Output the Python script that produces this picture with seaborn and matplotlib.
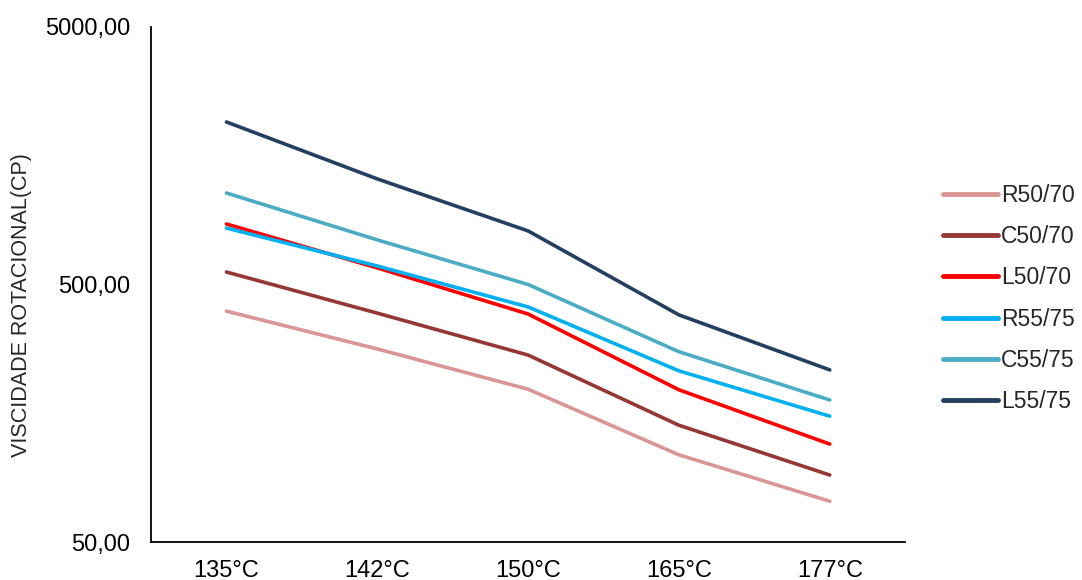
import matplotlib
matplotlib.use('Agg')
import matplotlib.pyplot as plt
from matplotlib.ticker import NullLocator
import pandas as pd
import seaborn as sns

temps = ["135°C", "142°C", "150°C", "165°C", "177°C"]
series = ["R50/70", "C50/70", "L50/70", "R55/75", "C55/75", "L55/75"]
r50_70 = [394, 281, 196, 109, 72]
c50_70 = [559, 387, 266, 142, 91]
l50_70 = [859, 580, 384, 195, 120]
r55_75 = [828, 590, 409, 231, 154]
c55_75 = [1133, 745, 500, 274, 178]
l55_75 = [2138, 1285, 807, 381, 233]
colors = ["#D99694", "#953735", "#FF0000", "#00B0F0", "#4BACC6", "#243F60"]

values = [r50_70, c50_70, l50_70, r55_75, c55_75, l55_75]
rows = []
for name, vals in zip(series, values):
    for t, v in zip(temps, vals):
        rows.append({"temp": t, "serie": name, "visc": v})
df = pd.DataFrame(rows)

sns.set_style("white")
plt.rcParams['font.family'] = ['Liberation Sans', 'DejaVu Sans']

fig = plt.figure(figsize=(10.82, 5.8), dpi=100)
ax = fig.add_axes([0.1396, 0.0655, 0.697, 0.888])

sns.lineplot(data=df, x="temp", y="visc", hue="serie", hue_order=series,
             palette=colors, linewidth=2.6, ax=ax, sort=False)
for ln in ax.lines:
    ln.set_solid_joinstyle('round')
    ln.set_solid_capstyle('round')

ax.set_yscale('log')
ax.set_ylim(50, 5000)
ax.set_xlim(-0.5, 4.5)
ax.set_yticks([50, 500, 5000])
ax.set_yticklabels(["50,00", "500,00", "5000,00"])
ax.yaxis.set_minor_locator(NullLocator())
ax.tick_params(axis='both', length=0, labelsize=17, colors='black')
ax.tick_params(axis='y', pad=15)
ax.tick_params(axis='x', pad=13)
ax.set_xlabel("")
ax.set_ylabel("VISCIDADE ROTACIONAL(CP)", fontsize=15.5)
ax.yaxis.set_label_coords(-0.158, 0.46)

for s in ["top", "right"]:
    ax.spines[s].set_visible(False)
for s in ["left", "bottom"]:
    ax.spines[s].set_color("black")
    ax.spines[s].set_linewidth(1.3)

leg = ax.legend(loc="center left", bbox_to_anchor=(1.05, 0.473), frameon=False,
                borderpad=0, borderaxespad=0,
                fontsize=16.5, handlelength=2.4, handletextpad=0.15, labelspacing=0.8)
for h in leg.get_lines():
    h.set_linewidth(3.5)

plt.savefig("out.png", dpi=100)
